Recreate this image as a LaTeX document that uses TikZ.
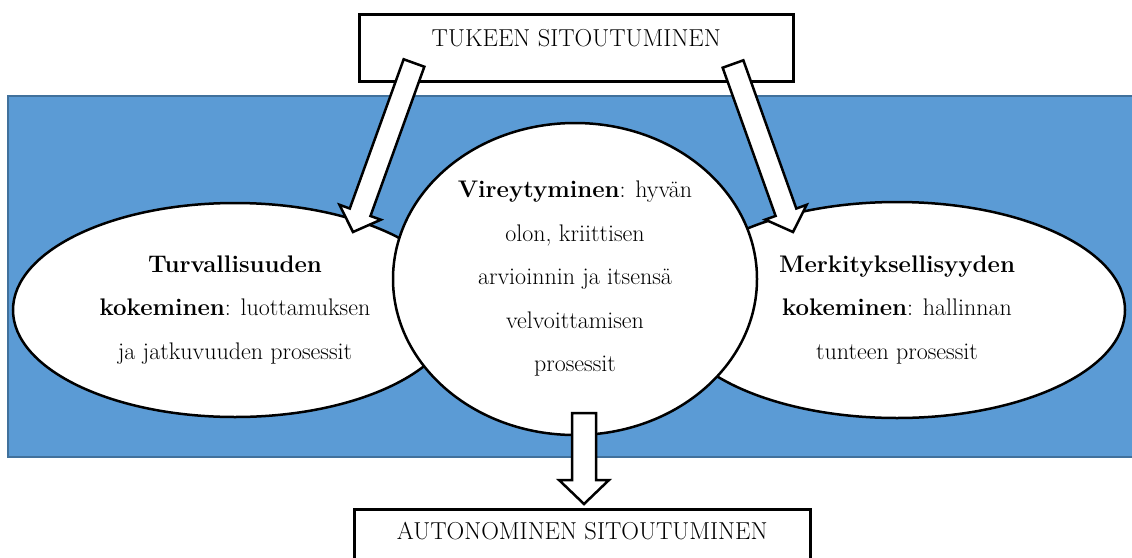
\documentclass[tikz,border=0pt]{standalone}
\usepackage{fontspec}
\usetikzlibrary{shapes.geometric,calc}
\definecolor{bandblue}{HTML}{5B9BD5}
\definecolor{bandedge}{HTML}{41719C}
\newcommand{\barrow}[5]{%
  \coordinate (hb) at ($(#2)!#5!(#1)$);
  \draw[blockarrow] ($(#1)!#3!90:(#2)$) -- ($(hb)!#3!90:(#2)$) -- ($(hb)!#4!90:(#2)$) -- (#2)
    -- ($(hb)!#4!-90:(#2)$) -- ($(hb)!#3!-90:(#2)$) -- ($(#1)!#3!-90:(#2)$) -- cycle;
}
\begin{document}
\begin{tikzpicture}[x=1pt,y=-1pt,
  outl/.style={draw=black,line width=2.5pt,fill=white},
  blob/.style={outl,ellipse,inner sep=0pt,align=center,font=\fontsize{24}{43.5}\selectfont},
  boxlabel/.style={outl,rectangle,inner sep=0pt,anchor=north west,font=\fontsize{24.5}{28}\selectfont},
  blockarrow/.style={outl,line width=2.5pt,line join=miter}
]
\useasboundingbox (0,0) rectangle (1132,557);
\clip (0,0) rectangle (1132,557);
% blue band
\draw[fill=bandblue,draw=bandedge,line width=2pt] (8,96) rectangle (1140,457);
% side ellipses
\node[blob,minimum width=444pt,minimum height=214pt] (lft) at (235,310)
  {\textbf{Turvallisuuden}\\ \textbf{kokeminen}: luottamuksen\\ ja jatkuvuuden prosessit};
\node[blob,minimum width=456pt,minimum height=216pt] (rgt) at (897,310)
  {\textbf{Merkityksellisyyden}\\ \textbf{kokeminen}: hallinnan\\ tunteen prosessit};
% centre ellipse
\node[blob,minimum width=364pt,minimum height=312pt] (mid) at (575,279)
  {\textbf{Vireytyminen}: hyvän\\ olon, kriittisen\\ arvioinnin ja itsensä\\ velvoittamisen\\ prosessit};
% boxes
\node[boxlabel,minimum width=434pt,text height=32pt,text depth=35pt] (top) at (358,13)
  {TUKEEN SITOUTUMINEN};
\node[boxlabel,minimum width=456pt,text height=30pt,text depth=45pt] (bot) at (353,508)
  {AUTONOMINEN SITOUTUMINEN};
% arrows
\coordinate (la1) at (414,63);
\coordinate (la2) at (353,232);
\coordinate (ra1) at (733,64);
\coordinate (ra2) at (793,232);
\coordinate (ba1) at (584,413);
\coordinate (ba2) at (584,504);
\barrow{la1}{la2}{11pt}{22pt}{21pt}
\barrow{ra1}{ra2}{11pt}{22pt}{21pt}
\barrow{ba1}{ba2}{12pt}{25pt}{24pt}
\end{tikzpicture}
\end{document}
